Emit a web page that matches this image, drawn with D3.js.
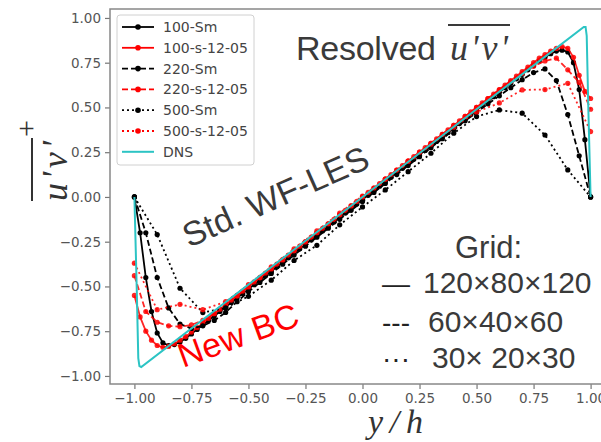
<!DOCTYPE html>
<html><head><meta charset="utf-8">
<script src="https://cdn.jsdelivr.net/npm/d3@7"></script>
<style>body{margin:0;background:#fff}svg{display:block}</style>
</head><body><svg id="c" width="601" height="442"></svg>
<script>
// ---- data ----
const xTicks = [-1, -0.75, -0.5, -0.25, 0, 0.25, 0.5, 0.75, 1];
const yTicks = [-1, -0.75, -0.5, -0.25, 0, 0.25, 0.5, 0.75, 1];
const seriesNames = ["100-Sm", "100-s-12-05", "220-Sm", "220-s-12-05", "500-Sm", "500-s-12-05", "DNS"];

const x80 = [-1, -0.975, -0.95, -0.925, -0.9, -0.875, -0.85, -0.825, -0.8, -0.775, -0.75, -0.725, -0.7, -0.675, -0.65, -0.625, -0.6, -0.575, -0.55, -0.525, -0.5, -0.475, -0.45, -0.425, -0.4, -0.375, -0.35, -0.325, -0.3, -0.275, -0.25, -0.225, -0.2, -0.175, -0.15, -0.125, -0.1, -0.075, -0.05, -0.025, 0, 0.025, 0.05, 0.075, 0.1, 0.125, 0.15, 0.175, 0.2, 0.225, 0.25, 0.275, 0.3, 0.325, 0.35, 0.375, 0.4, 0.425, 0.45, 0.475, 0.5, 0.525, 0.55, 0.575, 0.6, 0.625, 0.65, 0.675, 0.7, 0.725, 0.75, 0.775, 0.8, 0.825, 0.85, 0.875, 0.9, 0.925, 0.95, 0.975, 1];
const sm100 = [0, -0.2, -0.45, -0.64, -0.76, -0.815, -0.83, -0.825, -0.81, -0.79, -0.765, -0.74, -0.715, -0.69, -0.665, -0.64, -0.615, -0.59, -0.565, -0.54, -0.515, -0.49, -0.465, -0.44, -0.415, -0.39, -0.365, -0.34, -0.315, -0.29, -0.265, -0.24, -0.215, -0.19, -0.165, -0.14, -0.115, -0.09, -0.065, -0.04, -0.015, 0.01, 0.035, 0.06, 0.085, 0.11, 0.135, 0.16, 0.185, 0.21, 0.235, 0.26, 0.285, 0.31, 0.335, 0.36, 0.385, 0.41, 0.435, 0.46, 0.485, 0.51, 0.535, 0.56, 0.585, 0.61, 0.635, 0.66, 0.685, 0.71, 0.735, 0.76, 0.78, 0.8, 0.815, 0.82, 0.81, 0.75, 0.6, 0.32, 0];
const s100 = [-0.55, -0.67, -0.75, -0.8, -0.83, -0.84, -0.835, -0.82, -0.8, -0.78, -0.755, -0.73, -0.705, -0.678, -0.652, -0.627, -0.602, -0.576, -0.551, -0.526, -0.5, -0.475, -0.45, -0.425, -0.4, -0.375, -0.35, -0.325, -0.3, -0.275, -0.25, -0.225, -0.2, -0.175, -0.15, -0.125, -0.1, -0.075, -0.05, -0.025, 0, 0.025, 0.05, 0.075, 0.1, 0.125, 0.15, 0.175, 0.2, 0.225, 0.25, 0.275, 0.3, 0.325, 0.35, 0.375, 0.4, 0.425, 0.45, 0.475, 0.5, 0.525, 0.55, 0.575, 0.6, 0.625, 0.65, 0.675, 0.7, 0.725, 0.75, 0.775, 0.795, 0.815, 0.83, 0.84, 0.83, 0.78, 0.68, 0.59, 0.55];

const x40 = [-1, -0.95, -0.9, -0.85, -0.8, -0.75, -0.7, -0.65, -0.6, -0.55, -0.5, -0.45, -0.4, -0.35, -0.3, -0.25, -0.2, -0.15, -0.1, -0.05, 0, 0.05, 0.1, 0.15, 0.2, 0.25, 0.3, 0.35, 0.4, 0.45, 0.5, 0.55, 0.6, 0.65, 0.7, 0.75, 0.8, 0.85, 0.9, 0.95, 1];
const sm220 = [0, -0.2, -0.45, -0.62, -0.71, -0.735, -0.72, -0.69, -0.645, -0.585, -0.53, -0.478, -0.427, -0.376, -0.325, -0.275, -0.225, -0.175, -0.125, -0.075, -0.025, 0.025, 0.075, 0.125, 0.175, 0.225, 0.275, 0.325, 0.375, 0.425, 0.473, 0.52, 0.565, 0.61, 0.655, 0.695, 0.715, 0.65, 0.46, 0.23, 0];
const s220 = [-0.44, -0.64, -0.7, -0.72, -0.725, -0.715, -0.69, -0.65, -0.603, -0.553, -0.503, -0.452, -0.402, -0.352, -0.301, -0.251, -0.2, -0.15, -0.1, -0.05, 0, 0.05, 0.1, 0.15, 0.2, 0.25, 0.3, 0.35, 0.4, 0.45, 0.5, 0.55, 0.598, 0.645, 0.69, 0.73, 0.76, 0.775, 0.71, 0.64, 0.49];

const x20 = [-1, -0.9, -0.8, -0.7, -0.6, -0.5, -0.4, -0.3, -0.2, -0.1, 0, 0.1, 0.2, 0.3, 0.4, 0.5, 0.6, 0.7, 0.8, 0.9, 1];
const sm500 = [0, -0.21, -0.51, -0.646, -0.62, -0.555, -0.465, -0.355, -0.27, -0.156, -0.056, 0.039, 0.141, 0.244, 0.356, 0.449, 0.486, 0.468, 0.346, 0.151, 0];
const s500 = [-0.37, -0.63, -0.6, -0.63, -0.585, -0.49, -0.39, -0.29, -0.19, -0.09, 0.005, 0.1, 0.2, 0.295, 0.39, 0.475, 0.525, 0.598, 0.6, 0.635, 0.365];

const xDNS = [-1, -0.99, -0.983, -0.978, -0.97, 0, 0.97, 0.978, 0.983, 0.99, 1];
const yDNS = [0, -0.5, -0.9, -0.945, -0.95, 0, 0.95, 0.95, 0.9, 0.5, 0];

// ---- styles ----
const styles = [
  {x: x80, y: sm100, color: "#000", dash: null, marker: true},
  {x: x80, y: s100, color: "#ff0000", dash: null, marker: true},
  {x: x40, y: sm220, color: "#000", dash: "6,3", marker: true},
  {x: x40, y: s220, color: "#ff0000", dash: "6,3", marker: true},
  {x: x20, y: sm500, color: "#000", dash: "2,3", marker: true},
  {x: x20, y: s500, color: "#ff0000", dash: "2,3", marker: true},
  {x: xDNS, y: yDNS, color: "#2cc4c4", dash: null, marker: false}
];

const svg = d3.select("#c");
const xS = d3.scaleLinear().domain([-1.107, 1.107]).range([110, 615]);
const yS = d3.scaleLinear().domain([-1.045, 1.05]).range([384, 9]);

svg.append("defs").append("clipPath").attr("id", "pc")
  .append("rect").attr("x", 110).attr("y", 9).attr("width", 505).attr("height", 375);

const line = d3.line().x(d => xS(d[0])).y(d => yS(d[1]));
const pg = svg.append("g").attr("clip-path", "url(#pc)");
styles.forEach((s, i) => {
  const pts = d3.zip(s.x, s.y);
  pg.append("path").datum(pts).attr("d", line)
    .attr("fill", "none").attr("stroke", s.color)
    .attr("stroke-width", i === 6 ? 2 : 1.8)
    .attr("stroke-dasharray", s.dash)
    .attr("opacity", s.color === "#ff0000" ? 0.85 : 1);
  if (s.marker) {
    pg.append("g").selectAll("circle").data(pts).join("circle")
      .attr("cx", d => xS(d[0])).attr("cy", d => yS(d[1])).attr("r", 2.6)
      .attr("fill", s.color).attr("opacity", s.color === "#ff0000" ? 0.85 : 1);
  }
});

// ---- axes ----
const axX = d3.axisBottom(xS).tickValues(xTicks).tickSize(5).tickPadding(4).tickFormat(d3.format(".2f"));
const axY = d3.axisLeft(yS).tickValues(yTicks).tickSize(5).tickPadding(4).tickFormat(d3.format(".2f"));
const gx = svg.append("g").attr("transform", "translate(0,384)").call(axX);
const gy = svg.append("g").attr("transform", "translate(110,0)").call(axY);
[gx, gy].forEach(g => {
  g.select(".domain").remove();
  g.selectAll(".tick line").attr("stroke", "#777").attr("stroke-width", 1.2);
  g.selectAll(".tick text").attr("fill", "#555").attr("font-family", "DejaVu Sans").attr("font-size", 13.5);
});
svg.append("rect").attr("x", 110).attr("y", 9).attr("width", 505).attr("height", 375)
  .attr("fill", "none").attr("stroke", "#888").attr("stroke-width", 1.5);

// ---- legend ----
const lg = svg.append("g");
lg.append("rect").attr("x", 117).attr("y", 15).attr("width", 137).attr("height", 150).attr("rx", 3)
  .attr("fill", "#fff").attr("fill-opacity", 0.85).attr("stroke", "#d0d0d0");
seriesNames.forEach((n, i) => {
  const yy = 27 + i * 20.8, s = styles[i];
  lg.append("line").attr("x1", 122).attr("x2", 154).attr("y1", yy).attr("y2", yy)
    .attr("stroke", s.color).attr("stroke-width", i === 6 ? 2 : 1.8).attr("stroke-dasharray", s.dash);
  if (s.marker) lg.append("circle").attr("cx", 138).attr("cy", yy).attr("r", 2.8).attr("fill", s.color);
  lg.append("text").attr("x", 163).attr("y", yy).attr("dy", "0.36em").text(n)
    .attr("font-family", "DejaVu Sans").attr("font-size", 14).attr("fill", "#444");
});

// ---- annotations ----
const sans = "Liberation Sans, Arial, sans-serif", serif = "Liberation Serif, serif";
svg.append("text").attr("x", 296).attr("y", 60).text("Resolved")
  .attr("font-family", sans).attr("font-size", 34).attr("textLength", 140).attr("fill", "#3a3a3a");
svg.append("text").attr("x", 450).attr("y", 60).text("u'v'")
  .attr("font-family", serif).attr("font-style", "italic").attr("font-size", 36)
  .attr("textLength", 58).attr("fill", "#3a3a3a");
svg.append("line").attr("x1", 448).attr("x2", 510).attr("y1", 25).attr("y2", 25).attr("stroke", "#3a3a3a").attr("stroke-width", 2);

svg.append("text").attr("transform", "translate(189,248) rotate(-24)").text("Std. WF-LES")
  .attr("font-family", sans).attr("font-size", 34).attr("textLength", 200).attr("fill", "#3a3a3a");
svg.append("text").attr("transform", "translate(183,368) rotate(-20)").text("New BC")
  .attr("font-family", sans).attr("font-size", 34).attr("textLength", 126).attr("fill", "#ff0000");

svg.append("text").attr("x", 455).attr("y", 258).text("Grid:")
  .attr("font-family", sans).attr("font-size", 31).attr("fill", "#3a3a3a");
const gridRows = [["—", "120×80×120", 293, 423], ["---", "60×40×60", 332, 428], ["···", "30× 20×30", 368, 432]];
gridRows.forEach(r => {
  svg.append("text").attr("x", 382).attr("y", r[2]).text(r[0])
    .attr("font-family", sans).attr("font-size", 28).attr("fill", "#222");
  svg.append("text").attr("x", r[3]).attr("y", r[2]).text(r[1])
    .attr("font-family", sans).attr("font-size", 30).attr("fill", "#3a3a3a");
});

// ---- axis labels ----
svg.append("text").attr("x", 368).attr("y", 433).text("y/h")
  .attr("font-family", serif).attr("font-style", "italic").attr("font-size", 34)
  .attr("textLength", 55).attr("fill", "#333");
const yl = svg.append("g").attr("transform", "translate(67,201) rotate(-90)");
yl.append("text").attr("x", 0).attr("y", 0).text("u'v'")
  .attr("font-family", serif).attr("font-style", "italic").attr("font-size", 36)
  .attr("textLength", 60).attr("fill", "#333");
yl.append("line").attr("x1", 0).attr("x2", 63).attr("y1", -35).attr("y2", -35).attr("stroke", "#333").attr("stroke-width", 2);
yl.append("text").attr("x", 64).attr("y", -31).text("+")
  .attr("font-family", serif).attr("font-size", 30).attr("fill", "#333");
</script></body></html>
